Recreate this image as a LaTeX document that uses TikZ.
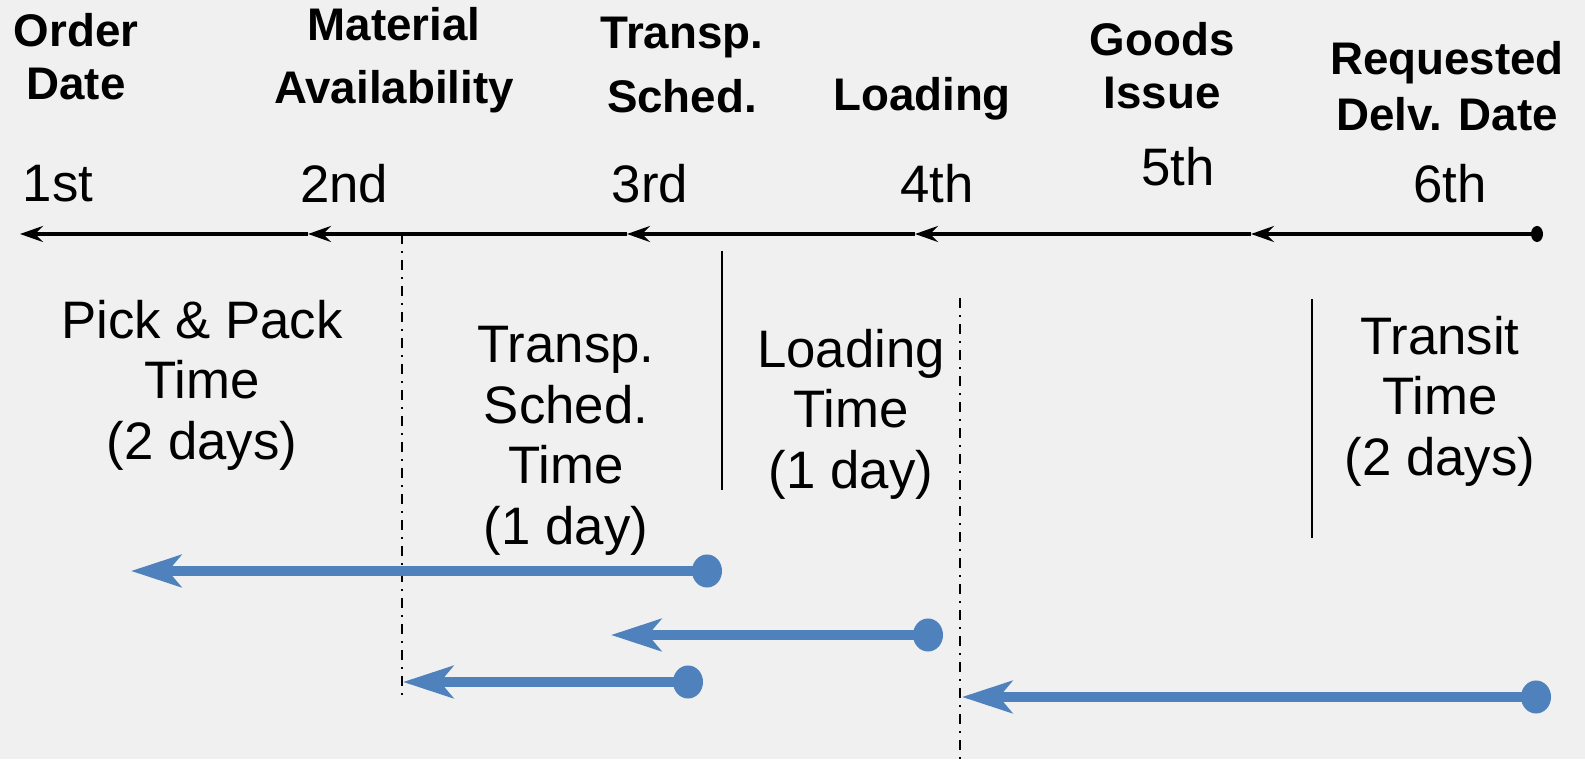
\documentclass[tikz,border=0pt]{standalone}
\usepackage{fontspec}
\setmainfont{Liberation Sans}
\usepackage{xcolor}
\usepackage{tikz}
\usetikzlibrary{arrows.meta, shapes.geometric, positioning}
\definecolor{bggray}{RGB}{240,240,240}
\definecolor{leadblue}{RGB}{79,129,189}

\begin{document}
\begin{tikzpicture}[
    x=0.01cm, y=-0.01cm,
    heading/.style={align=center, inner sep=0pt, font=\fontsize{13}{15}\selectfont\bfseries},
    ordinal/.style={inner sep=0pt, font=\fontsize{15}{17}\selectfont},
    period/.style={align=center, inner sep=0pt, font=\fontsize{15}{17.2}\selectfont},
    axis/.style={-{Stealth[length=2.3mm, width=1.6mm, inset=0.8mm]}, line width=1pt},
    divider/.style={line width=0.7pt},
    dashdot/.style={line width=0.8pt, dash pattern=on 1mm off 0.7mm on 0.2mm off 0.7mm},
    dotk/.style={ellipse, fill=black, inner sep=0pt, minimum width=1.2mm, minimum height=1.6mm},
    dotb/.style={ellipse, fill=leadblue, inner sep=0pt, minimum width=3mm, minimum height=3.3mm},
    lead/.style={-{Stealth[length=5mm, width=3.2mm, inset=1.3mm]}, leadblue, line width=2.7pt}
]
    % Background
    \fill[bggray] (0,0) rectangle (1585,759);

    % Milestones
    \node[heading] (hOrder) at (76,57) {Order\\Date};
    \node[heading] (hMat) at (394,60) {Material\\[3pt]Availability};
    \node[heading] (hTransp) at (682,65) {Transp.\\[3pt]Sched.};
    \node[heading] (hLoad) at (922,99) {Loading};
    \node[heading] (hGoods) at (1162,66) {Goods\\Issue};
    \node[heading] (hReq) at (1447,86) {Requested\\[1pt]Delv. Date};

    % Days
    \node[ordinal] (d1) at (58,184) {1st};
    \node[ordinal] (d2) at (344,184) {2nd};
    \node[ordinal] (d3) at (650,184) {3rd};
    \node[ordinal] (d4) at (937,184) {4th};
    \node[ordinal] (d5) at (1178,167) {5th};
    \node[ordinal] (d6) at (1450,184) {6th};

    % Time line
    \coordinate (t1) at (20,234);
    \coordinate (t2) at (308,234);
    \coordinate (t3) at (627,234);
    \coordinate (t4) at (915,234);
    \coordinate (t5) at (1251,234);
    \node[dotk] (t6) at (1537,234) {};
    \draw[axis] (t6.center) -- (t5);
    \draw[axis] (t5) -- (t4);
    \draw[axis] (t4) -- (t3);
    \draw[axis] (t3) -- (t2);
    \draw[axis] (t2) -- (t1);

    % Separators
    \coordinate (m2) at (402,234);
    \coordinate (m2b) at (402,695);
    \coordinate (s3) at (722,251);
    \coordinate (s3b) at (722,490);
    \coordinate (m4) at (960,298);
    \coordinate (m4b) at (960,759);
    \coordinate (s6) at (1312,299);
    \coordinate (s6b) at (1312,538);
    \draw[dashdot] (m2) -- (m2b);
    \draw[divider] (s3) -- (s3b);
    \draw[dashdot] (m4) -- (m4b);
    \draw[divider] (s6) -- (s6b);

    % Durations
    \node[period] (pPick) at (202,385) {Pick \& Pack\\Time\\(2 days)};
    \node[period] (pTransp) at (566,441) {Transp.\\Sched.\\Time\\(1 day)};
    \node[period] (pLoad) at (851,414) {Loading\\Time\\(1 day)};
    \node[period] (pTransit) at (1440,401) {Transit\\Time\\(2 days)};

    % Lead times
    \node[dotb] (a1) at (707,571) {};
    \coordinate (b1) at (131,571);
    \node[dotb] (a2) at (928,635) {};
    \coordinate (b2) at (611,635);
    \node[dotb] (a3) at (688,682) {};
    \coordinate (b3) at (403,682);
    \node[dotb] (a4) at (1536,697) {};
    \coordinate (b4) at (962,697);
    \draw[lead] (a1.center) -- (b1);
    \draw[lead] (a2.center) -- (b2);
    \draw[lead] (a3.center) -- (b3);
    \draw[lead] (a4.center) -- (b4);
\end{tikzpicture}
\end{document}
